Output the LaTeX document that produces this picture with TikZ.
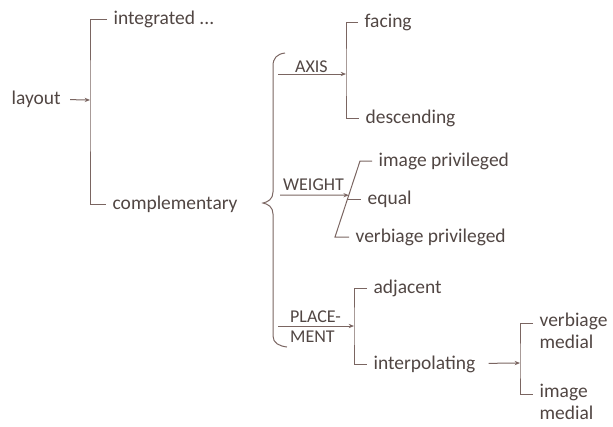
\documentclass[tikz,border=0pt]{standalone}
\usepackage{fontspec}
\setmainfont{Carlito}
\usetikzlibrary{arrows.meta,calc}

\definecolor{inkline}{HTML}{7A6561}
\definecolor{inktext}{HTML}{514643}

\tikzset{every picture/.style={line width=0.75pt}}
\tikzset{
  txt/.style={anchor=west,inner sep=1pt,outer xsep=4pt,text=inktext,font=\fontsize{14.6}{16.5}\selectfont,align=left},
  caplbl/.style={anchor=west,inner sep=0.5pt,text=inktext,font=\fontsize{13.5}{15}\selectfont,align=left},
  arr/.style={-{Stealth[length=4pt,width=3.2pt]}},
}

\begin{document}
\begin{tikzpicture}[x=0.75pt,y=0.75pt,yscale=-1,xscale=1,color=inkline]
		\useasboundingbox (0,0) rectangle (613,426);
		
		% Text Node
		\node [txt] (layout) at (5,99) {layout};
		% Text Node
		\node [txt] (integ) at (107,19) {integrated ...};
		% Text Node
		\node [txt] (compl) at (106,204) {complementary};
		% Text Node
		\node [txt] (facing) at (358,22) {facing};
		% Text Node
		\node [txt] (desc) at (359,118) {descending};
		% Text Node
		\node [txt] (imgpriv) at (372,161) {image privileged};
		% Text Node
		\node [txt] (equal) at (361,199) {equal};
		% Text Node
		\node [txt] (verbpriv) at (349,237) {verbiage privileged};
		% Text Node
		\node [txt] (adjacent) at (367,288) {adjacent};
		% Text Node
		\node [txt] (interp) at (367,364) {interpolating};
		% Text Node
		\node [txt] (verbmed) at (533,331) {verbiage\\medial};
		% Text Node
		\node [txt] (imgmed) at (533,402) {image\\medial};
		
		% Text Node
		\node [caplbl] (axis) at (294,67) {AXIS};
		% Text Node
		\node [caplbl] (weight) at (282,185) {WEIGHT};
		% Text Node
		\node [caplbl] (place) at (289,327) {PLACE-\\MENT};
		
		%Junctions
		\coordinate (jL) at (90,100);
		\coordinate (jA) at (346,74);
		\coordinate (jP) at (354,326);
		\coordinate (jI) at (520,363);
		\coordinate (wTop) at (360,161);
		\coordinate (wBot) at (335,237);
		\coordinate (jW) at ($(wTop)!0.45!(wBot)$);
		\coordinate (wMid) at ($(wTop)!0.5!(wBot)$);
		\coordinate (vmTick) at ($(verbmed.north west)!0.3!(verbmed.south west)$);
		\coordinate (imTick) at ($(imgmed.north west)!0.3!(imgmed.south west)$);
		%Brace ends
		\coordinate (bTop) at (285,53);
		\coordinate (bTip) at (263,203);
		\coordinate (bBot) at (287,347);
		\coordinate (sA) at (278,74);
		\coordinate (sW) at (280,195);
		\coordinate (sP) at (278,326);
		
		%Straight Lines
		\draw [arr,shorten <=2pt] (layout) -- (jL);
		%Straight Lines
		\draw (integ.west) -| (jL) |- (compl.west);
		
		%Curve Lines
		\draw (bTop) .. controls (277,54) and (273,58) .. (273,66) -- (273,192)
			.. controls (273,199) and (268,202) .. (bTip)
			.. controls (268,204) and (273,207) .. (273,214) -- (273,336)
			.. controls (273,343) and (279,346) .. (bBot);
		
		%Straight Lines
		\draw [arr] (sA) -- (jA);
		%Straight Lines
		\draw (facing.west) -| (jA) |- (desc.west);
		
		%Straight Lines
		\draw [arr] (sW) -- (jW);
		%Straight Lines
		\draw (imgpriv.west) -- (wTop) -- (wBot) -- (verbpriv.west);
		%Straight Lines
		\draw (wMid) -- (equal.west);
		
		%Straight Lines
		\draw [arr] (sP) -- (jP);
		%Straight Lines
		\draw (adjacent.west) -| (jP) |- (interp.west);
		
		%Straight Lines
		\draw [arr,shorten <=5pt] (interp) -- (jI);
		%Straight Lines
		\draw (vmTick) -| (jI) |- (imTick);
		
	\end{tikzpicture}
\end{document}
